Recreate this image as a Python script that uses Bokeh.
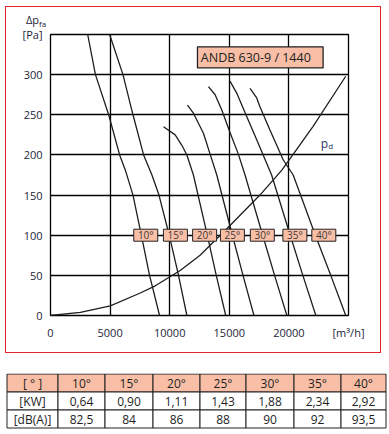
from bokeh.plotting import figure
from bokeh.models import Range1d, FixedTicker, Div
from bokeh.layouts import column
from bokeh.embed import file_html
from bokeh.resources import INLINE
from bokeh.core.properties import value

# ---------------- data ----------------
flow_10 = [3120, 3770, 4880, 5800, 6280, 6920, 7620, 8310, 9150]
pres_10 = [350, 300, 250, 200, 181, 150, 100, 50, 0]

flow_15 = [4960, 6080, 6920, 7810, 8510, 9100, 9960, 10740, 11440]
pres_15 = [350, 300, 250, 200, 175, 150, 100, 50, 0]

flow_20 = [9480, 10460, 11020, 11440, 11990, 13140, 13890, 14700]
pres_20 = [235, 225, 212, 200, 175, 101, 51, 0]

flow_25 = [11490, 11990, 12830, 13390, 13950, 15260, 16150, 17070]
pres_25 = [262, 252, 227, 201, 175, 100, 50, 0]

flow_30 = [13250, 13810, 14370, 15060, 15760, 16320, 17800, 18800, 19830]
pres_30 = [285, 275, 256, 228, 201, 175, 100, 50, 0]

flow_35 = [15060, 15620, 16460, 17300, 18550, 20110, 21170, 22260]
pres_35 = [292, 277, 248, 219, 175, 100, 50, 0]

flow_40 = [16740, 17300, 17570, 18410, 19520, 20360, 22220, 23510, 24770]
pres_40 = [283, 271, 260, 231, 194, 175, 100, 50, 0]

pd_flow = [0, 2510, 5020, 7530, 8790, 10880, 12550, 15060, 17570, 19410, 22000, 24770]
pd_pres = [0, 4, 12, 28, 37, 56, 75, 112, 150, 181, 235, 298]

angles = ["10°", "15°", "20°", "25°", "30°", "35°", "40°"]
power_kw = [0.64, 0.90, 1.11, 1.43, 1.88, 2.34, 2.92]
noise_dba = [82.5, 84, 86, 88, 90, 92, 93.5]

x_ticks = [0, 5000, 10000, 15000, 20000, 25000]
y_ticks = [0, 50, 100, 150, 200, 250, 300, 350]
title_text = "ANDB 630-9 / 1440"

# ---------------- styling / layout ----------------
FONT = "Open Sans"
SALMON = "#F8BFA6"
INK = "#1e1e1e"
AXIS_INK = "#24243a"
RED = "#E3232B"

# annotation placements (data coordinates of the angle tags at 100 Pa)
tag_flow = [7990, 10480, 12930, 15260, 17770, 20500, 22930]
tag_pres = [100] * len(angles)

W1, H1 = 376, 347          # inner size of the red-bordered chart panel
p = figure(width=W1, height=H1, output_backend="svg", toolbar_location=None,
           x_range=Range1d(0, 25000), y_range=Range1d(0, 350),
           min_border_left=44, min_border_right=34, min_border_top=27,
           min_border_bottom=39)
p.margin = (6, 0, 0, 5)
p.styles = {"border": f"1px solid {RED}"}
p.frame_align = False

p.background_fill_color = "white"
p.border_fill_color = "white"
p.border_fill_alpha = 0.0
p.outline_line_color = "black"
p.outline_line_width = 1.3

p.xaxis.ticker = FixedTicker(ticks=x_ticks)
p.xaxis.major_label_overrides = {25000: "[m³/h]"}
p.yaxis.ticker = FixedTicker(ticks=y_ticks)
p.yaxis.major_label_overrides = {350: "[Pa]"}
for ax in (p.xaxis, p.yaxis):
    ax.axis_line_color = None
    ax.major_tick_line_color = None
    ax.minor_tick_line_color = None
    ax.major_tick_out = 0
    ax.major_tick_in = 0
    ax.major_label_text_font = FONT
    ax.major_label_text_font_size = "11px"
    ax.major_label_text_color = AXIS_INK
p.xaxis.major_label_standoff = 9
p.yaxis.major_label_standoff = 8

p.xgrid.ticker = FixedTicker(ticks=x_ticks[1:-1])
p.ygrid.ticker = FixedTicker(ticks=y_ticks[1:-1])
p.grid.grid_line_color = "black"
p.grid.grid_line_width = 1.3
p.grid.grid_line_alpha = 1.0

curves = [(flow_10, pres_10), (flow_15, pres_15), (flow_20, pres_20),
          (flow_25, pres_25), (flow_30, pres_30), (flow_35, pres_35),
          (flow_40, pres_40)]
for fl, pr in curves:
    p.line(fl, pr, line_color=INK, line_width=1.3)

p.line(pd_flow, pd_pres, line_color=INK, line_width=1.3)

# angle tags
p.rect(x=tag_flow, y=tag_pres, width=24, height=12, width_units="screen",
       height_units="screen", fill_color=SALMON, line_color="#222222", line_width=1)
p.text(x=tag_flow, y=tag_pres, text=angles, text_align="center",
       text_baseline="middle", text_font=value(FONT), text_font_size="10px",
       text_color="#3a3a3a")

# title box
p.quad(left=[12330], right=[22870], top=[334.6], bottom=[308.4],
       fill_color=SALMON, line_color="#222222", line_width=1.3)
p.text(x=[12610], y=[321.5], text=[title_text], text_align="left",
       text_baseline="middle", text_font=value(FONT), text_font_size="12.5px",
       text_color="#222222")

# p_d label
p.text(x=[22680], y=[214], text=["p"], text_align="left", text_baseline="alphabetic",
       text_font=value(FONT), text_font_size="12px", text_color="#2b3566")
p.text(x=[23300], y=[211.5], text=["d"], text_align="left", text_baseline="alphabetic",
       text_font=value(FONT), text_font_size="8px", text_color="#2b3566")

# y quantity name "Δp_fa" above the y axis (HTML text laid over the chart)
CH = 6 + H1 + 2           # height taken by the bordered chart
LAB_TOP, LAB_H = 16, 16
ylab = Div(text='Δp<sub style="font-size:8px">fa</sub>', width=40, height=LAB_H,
           margin=(LAB_TOP - CH, 0, CH - LAB_TOP - LAB_H, 26),
           styles={"font-family": FONT, "font-size": "11px", "color": AXIS_INK,
                   "line-height": "1", "position": "relative", "z-index": "2"})

# ---------------- table ----------------
col_edges = [6, 57, 104, 152, 199, 245, 293, 340, 385]
W2 = 389
H2 = 434 - CH
TB = 375 - CH
TF = H2 - TB
row_h = 18
t = figure(width=W2, height=H2, output_backend="svg", toolbar_location=None,
           x_range=Range1d(-0.5, W2 - 0.5), y_range=Range1d(-0.5, TF - 0.5),
           min_border_top=TB, min_border_bottom=0, min_border_left=0,
           min_border_right=0)
t.frame_align = False
t.axis.visible = False
t.grid.visible = False
t.outline_line_color = None
t.background_fill_color = "white"
t.border_fill_color = "white"

def fmt_kw(v):
    return f"{v:.2f}".replace(".", ",")

def fmt_db(v):
    return str(int(v)) if float(v).is_integer() else f"{v:.1f}".replace(".", ",")

rows = [["[ ° ]"] + angles,
        ["[KW]"] + [fmt_kw(v) for v in power_kw],
        ["[dB(A)]"] + [fmt_db(v) for v in noise_dba]]

L, R, T, B, F, X, Y, S = [], [], [], [], [], [], [], []
top_edge = TF - 1
for r, row in enumerate(rows):
    for c, txt in enumerate(row):
        L.append(col_edges[c]); R.append(col_edges[c + 1])
        tp = top_edge - r * row_h
        bt = top_edge - (r + 1) * row_h
        T.append(tp); B.append(bt)
        F.append(SALMON if r == 0 else "white")
        X.append((col_edges[c] + col_edges[c + 1]) / 2)
        Y.append((tp + bt) / 2)
        S.append(txt)

t.quad(left=L, right=R, top=T, bottom=B, fill_color=F, line_color="#222222",
       line_width=1)
t.text(x=X, y=Y, text=S, text_align="center", text_baseline="middle",
       text_font=value(FONT), text_font_size="12px", text_color="#1e1e1e")

layout = column(p, ylab, t, spacing=0)
open("out.html", "w").write(file_html(layout, INLINE))
